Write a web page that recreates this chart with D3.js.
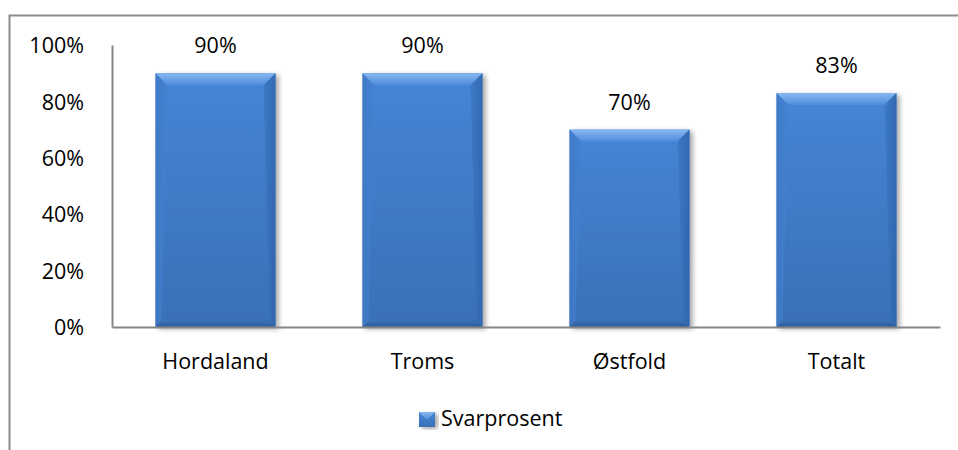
<!DOCTYPE html>
<html><head><meta charset="utf-8">
<script src="https://cdn.jsdelivr.net/npm/d3@7"></script>
<style>html,body{margin:0;padding:0;background:#fff;}svg{display:block;}</style>
</head><body>
<script>
const categories = ["Hordaland", "Troms", "Østfold", "Totalt"];
const values = [0.90, 0.90, 0.70, 0.83];
const valueLabels = ["90%", "90%", "70%", "83%"];
const yTicks = [0, 0.2, 0.4, 0.6, 0.8, 1.0];
const yTickLabels = ["0%", "20%", "40%", "60%", "80%", "100%"];
const seriesName = "Svarprosent";

const W = 958, H = 450;
const font = "'Open Sans', sans-serif";
const fs = 21.5;
const svg = d3.select("body").append("svg").attr("width", W).attr("height", H);
const defs = svg.append("defs");

const gFace = defs.append("linearGradient").attr("id","face").attr("x1",0).attr("y1",0).attr("x2",0).attr("y2",1);
gFace.append("stop").attr("offset","0%").attr("stop-color","#4585d6");
gFace.append("stop").attr("offset","100%").attr("stop-color","#3a70b6");
const gTop = defs.append("linearGradient").attr("id","topb").attr("x1",0).attr("y1",0).attr("x2",0).attr("y2",1);
gTop.append("stop").attr("offset","0%").attr("stop-color","#8ab9f0");
gTop.append("stop").attr("offset","100%").attr("stop-color","#4d8bdb");
const gLeft = defs.append("linearGradient").attr("id","leftb").attr("x1",0).attr("y1",0).attr("x2",1).attr("y2",0);
gLeft.append("stop").attr("offset","0%").attr("stop-color","#3f78c4");
gLeft.append("stop").attr("offset","100%").attr("stop-color","#4382d2");
const gRight = defs.append("linearGradient").attr("id","rightb").attr("x1",0).attr("y1",0).attr("x2",1).attr("y2",0);
gRight.append("stop").attr("offset","0%").attr("stop-color","#3b77c4");
gRight.append("stop").attr("offset","100%").attr("stop-color","#2f63a8");
const gBot = defs.append("linearGradient").attr("id","botb").attr("x1",0).attr("y1",0).attr("x2",0).attr("y2",1);
gBot.append("stop").attr("offset","0%").attr("stop-color","#3a6fb4");
gBot.append("stop").attr("offset","100%").attr("stop-color","#2d5c9c");
const shadow = defs.append("filter").attr("id","shadow").attr("x","-20%").attr("y","-20%").attr("width","140%").attr("height","140%");
shadow.append("feGaussianBlur").attr("in","SourceAlpha").attr("stdDeviation",2.5);
shadow.append("feOffset").attr("dx",3).attr("dy",2).attr("result","b");
shadow.append("feComponentTransfer").append("feFuncA").attr("type","linear").attr("slope",0.35);
const fm = shadow.append("feMerge"); fm.append("feMergeNode"); fm.append("feMergeNode").attr("in","SourceGraphic");

// outer border
svg.append("rect").attr("x",9.5).attr("y",15.5).attr("width",960).attr("height",460)
  .attr("fill","none").attr("stroke","#8c8c8c").attr("stroke-width",2);

const plot = {left:112, right:940, top:45, bottom:327};
const x = d3.scaleBand().domain(categories).range([plot.left, plot.right]).paddingInner(0.42).paddingOuter(0.21);
const y = d3.scaleLinear().domain([0,1]).range([plot.bottom, plot.top]);

// bars
const bev = 12, side = 6, bb = 6;
const bars = svg.append("g").selectAll("g").data(categories).join("g").attr("filter","url(#shadow)");
bars.each(function(c,i){
  const g = d3.select(this);
  const x0 = x(c), x1 = x(c)+x.bandwidth(), y0 = y(values[i]), y1 = y(0);
  g.append("rect").attr("x",x0).attr("y",y0).attr("width",x1-x0).attr("height",y1-y0).attr("fill","url(#face)");
  g.append("polygon").attr("points",[[x0,y0],[x1,y0],[x1-bev,y0+bev],[x0+bev,y0+bev]].join(" ")).attr("fill","url(#topb)");
  g.append("polygon").attr("points",[[x0,y0],[x0+bev,y0+bev],[x0+side,y1-bb],[x0,y1]].join(" ")).attr("fill","url(#leftb)").attr("opacity",0.8);
  g.append("polygon").attr("points",[[x1,y0],[x1-bev,y0+bev],[x1-side,y1-bb],[x1,y1]].join(" ")).attr("fill","url(#rightb)").attr("opacity",0.8);
  g.append("polygon").attr("points",[[x0,y1],[x0+side,y1-bb],[x1-side,y1-bb],[x1,y1]].join(" ")).attr("fill","url(#botb)");
});

// axes
const yAxis = d3.axisLeft(y).tickValues(yTicks).tickFormat((d,i)=>yTickLabels[i]).tickSize(0).tickPadding(28);
const ya = svg.append("g").attr("transform",`translate(${plot.left},0)`).call(yAxis);
ya.select(".domain").attr("stroke","#868686").attr("stroke-width",2);
ya.selectAll("text").attr("font-family",font).attr("font-size",fs).attr("fill","#000").attr("dy","0.36em");

const xAxis = d3.axisBottom(x).tickSize(0).tickPadding(27);
const xa = svg.append("g").attr("transform",`translate(0,${plot.bottom})`).call(xAxis);
xa.select(".domain").attr("stroke","#868686").attr("stroke-width",2);
xa.selectAll("text").attr("font-family",font).attr("font-size",fs).attr("fill","#000");

// value labels
svg.append("g").selectAll("text").data(categories).join("text")
  .attr("x",c=>x(c)+x.bandwidth()/2).attr("y",(c,i)=>y(values[i])-20)
  .attr("text-anchor","middle").attr("font-family",font).attr("font-size",fs).attr("fill","#000")
  .text((c,i)=>valueLabels[i]);

// legend
const lg = svg.append("g");
lg.append("rect").attr("x",419).attr("y",412).attr("width",16).attr("height",15).attr("fill","url(#face)").attr("filter","url(#shadow)");
lg.append("polygon").attr("points","419,412 435,412 427,420").attr("fill","url(#topb)");
lg.append("text").attr("x",441).attr("y",426).attr("font-family",font).attr("font-size",fs).attr("fill","#000").text(seriesName);
</script>
</body></html>
